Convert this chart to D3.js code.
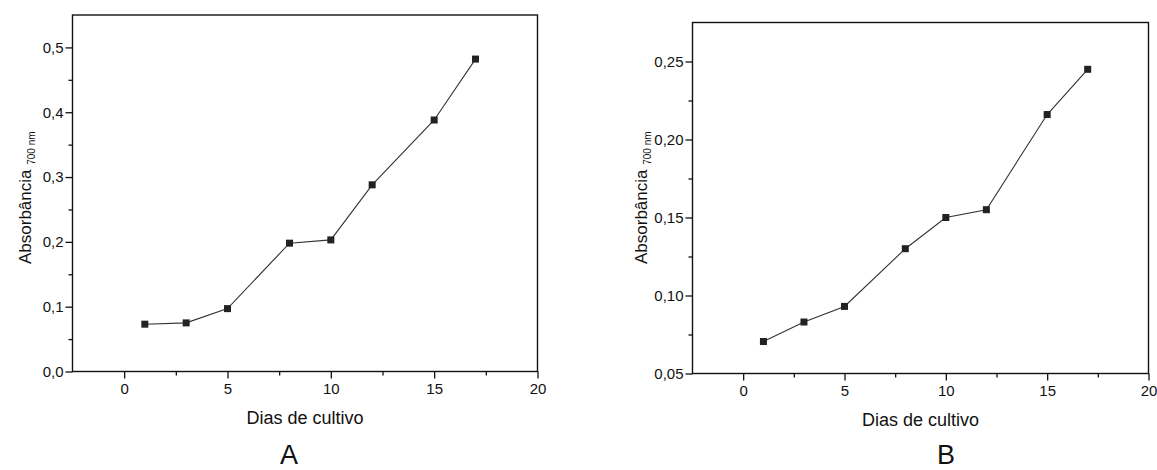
<!DOCTYPE html>
<html>
<head>
<meta charset="utf-8">
<script src="https://cdn.jsdelivr.net/npm/d3@7"></script>
<style>
  body { margin: 0; background: #fff; }
  text { font-family: "Liberation Sans", Arial, sans-serif; fill: #111; }
</style>
</head>
<body>
<svg id="chart" width="1157" height="470"></svg>
<script>
// dias de cultivo (same for both panels)
const days = [1, 3, 5, 8, 10, 12, 15, 17];
// panel A absorbance
const absA = [0.073, 0.075, 0.097, 0.198, 0.203, 0.288, 0.388, 0.482];
// panel B absorbance
const absB = [0.0705, 0.083, 0.093, 0.130, 0.150, 0.155, 0.216, 0.245];

const xTicks = [0, 5, 10, 15, 20];
const xMinor = [2.5, 7.5, 12.5, 17.5];
const yTicksA = [0, 0.1, 0.2, 0.3, 0.4, 0.5];
const yMinorA = [0.05, 0.15, 0.25, 0.35, 0.45];
const yTicksB = [0.05, 0.10, 0.15, 0.20, 0.25];
const yMinorB = [0.075, 0.125, 0.175, 0.225];

const svg = d3.select("#chart");

function drawPanel(p) {
    const x = d3.scaleLinear().domain([-2.5, 20]).range([p.left, p.right]);
    const y = d3.scaleLinear().domain(p.yDomain).range([p.bottom, p.top]);
    const g = svg.append("g");
    const fmt = v => d3.format("." + p.dec + "f")(v).replace(".", ",");

    // frame
    g.append("rect")
        .attr("x", p.left).attr("y", p.top)
        .attr("width", p.right - p.left).attr("height", p.bottom - p.top)
        .attr("fill", "none").attr("stroke", "#111").attr("stroke-width", 1.4);

    g.append("g").attr("transform", `translate(0,${p.bottom})`)
        .call(d3.axisBottom(x).tickValues(xTicks).tickSize(7).tickPadding(5).tickFormat(d3.format("d")));
    g.append("g").attr("transform", `translate(0,${p.bottom})`)
        .call(d3.axisBottom(x).tickValues(xMinor).tickSize(4).tickFormat(""));

    g.append("g").attr("transform", `translate(${p.left},0)`)
        .call(d3.axisLeft(y).tickValues(p.yTicks).tickSize(7).tickPadding(2).tickFormat(fmt));
    g.append("g").attr("transform", `translate(${p.left},0)`)
        .call(d3.axisLeft(y).tickValues(p.yMinor).tickSize(4).tickFormat(""));

    g.selectAll(".domain").remove();
    g.selectAll(".tick line").attr("stroke", "#111").attr("stroke-width", 1.3);
    g.selectAll(".tick text").attr("font-size", 15).attr("fill", "#111")
        .attr("font-family", "Liberation Sans, Arial, sans-serif");

    // series
    const pts = days.map((d, i) => [d, p.values[i]]);
    g.append("path")
        .datum(pts)
        .attr("fill", "none").attr("stroke", "#333").attr("stroke-width", 1.1)
        .attr("d", d3.line().x(d => x(d[0])).y(d => y(d[1])));
    g.selectAll("rect.pt").data(pts).enter().append("rect")
        .attr("class", "pt")
        .attr("x", d => x(d[0]) - 3.5).attr("y", d => y(d[1]) - 3.5)
        .attr("width", 7).attr("height", 7)
        .attr("fill", "#222");

    // axis titles
    g.append("text")
        .attr("x", (p.left + p.right) / 2).attr("y", p.bottom + 52)
        .attr("text-anchor", "middle").attr("font-size", 18)
        .text("Dias de cultivo");

    const yl = g.append("text")
        .attr("transform", `translate(${p.ylx},${p.yly}) rotate(-90)`)
        .attr("font-size", 17);
    yl.append("tspan").text("Absorbância ");
    yl.append("tspan").attr("font-size", 10).attr("dy", 4).text("700 nm");

    g.append("text")
        .attr("x", p.labelX).attr("y", 464)
        .attr("text-anchor", "middle").attr("font-size", 27)
        .text(p.label);
}

drawPanel({
    left: 72.5, right: 537.5, top: 15, bottom: 371.5,
    yDomain: [0, 0.55], yTicks: yTicksA, yMinor: yMinorA, dec: 1,
    values: absA, ylx: 31, yly: 264, label: "A", labelX: 289
});

drawPanel({
    left: 692.5, right: 1148.5, top: 22.5, bottom: 373.5,
    yDomain: [0.05, 0.275], yTicks: yTicksB, yMinor: yMinorB, dec: 2,
    values: absB, ylx: 647, yly: 264, label: "B", labelX: 946
});
</script>
</body>
</html>
